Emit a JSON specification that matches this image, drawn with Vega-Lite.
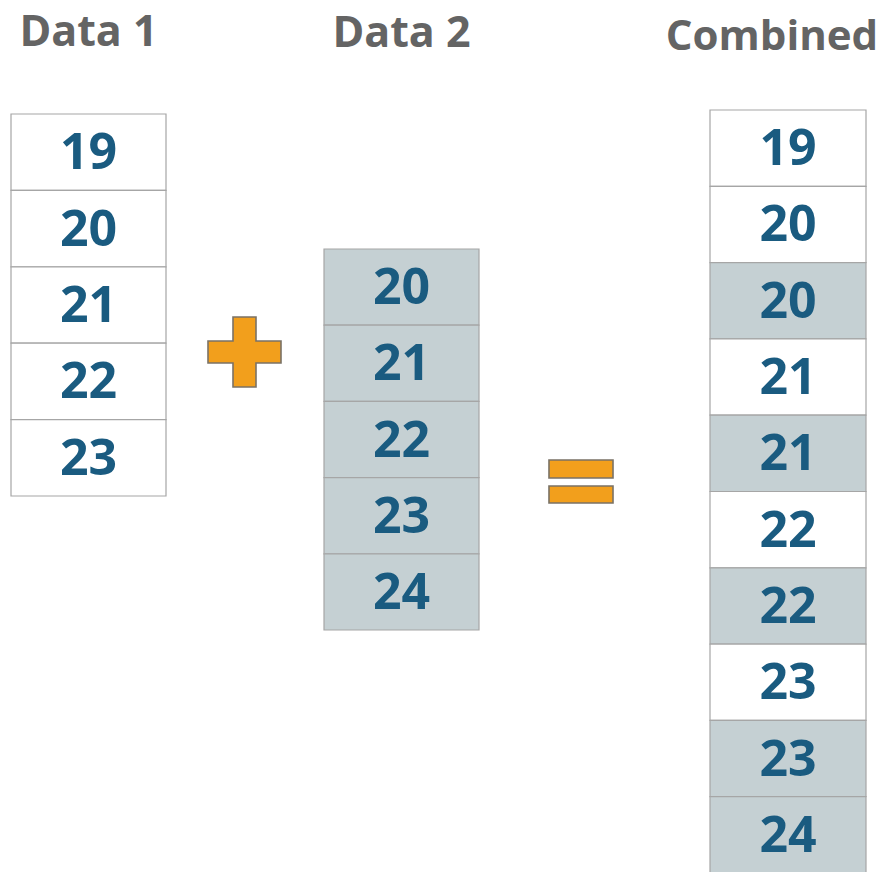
{
  "$schema": "https://vega.github.io/schema/vega-lite/v6.json",
  "width": 882,
  "height": 872,
  "padding": 0,
  "autosize": "none",
  "background": "white",
  "config": {"view": {"stroke": null}},
  "datasets": {
    "cells": [
      {"list": "Data 1", "pos": 1, "value": 19, "source": "Data 1"},
      {"list": "Data 1", "pos": 2, "value": 20, "source": "Data 1"},
      {"list": "Data 1", "pos": 3, "value": 21, "source": "Data 1"},
      {"list": "Data 1", "pos": 4, "value": 22, "source": "Data 1"},
      {"list": "Data 1", "pos": 5, "value": 23, "source": "Data 1"},
      {"list": "Data 2", "pos": 1, "value": 20, "source": "Data 2"},
      {"list": "Data 2", "pos": 2, "value": 21, "source": "Data 2"},
      {"list": "Data 2", "pos": 3, "value": 22, "source": "Data 2"},
      {"list": "Data 2", "pos": 4, "value": 23, "source": "Data 2"},
      {"list": "Data 2", "pos": 5, "value": 24, "source": "Data 2"},
      {"list": "Combined", "pos": 1, "value": 19, "source": "Data 1"},
      {"list": "Combined", "pos": 2, "value": 20, "source": "Data 1"},
      {"list": "Combined", "pos": 3, "value": 20, "source": "Data 2"},
      {"list": "Combined", "pos": 4, "value": 21, "source": "Data 1"},
      {"list": "Combined", "pos": 5, "value": 21, "source": "Data 2"},
      {"list": "Combined", "pos": 6, "value": 22, "source": "Data 1"},
      {"list": "Combined", "pos": 7, "value": 22, "source": "Data 2"},
      {"list": "Combined", "pos": 8, "value": 23, "source": "Data 1"},
      {"list": "Combined", "pos": 9, "value": 23, "source": "Data 2"},
      {"list": "Combined", "pos": 10, "value": 24, "source": "Data 2"}
    ],
    "titles": [
      {"list": "Data 1", "title": "Data 1"},
      {"list": "Data 2", "title": "Data 2"},
      {"list": "Combined", "title": "Combined"}
    ],
    "ops": [
      {"op": "plus"},
      {"op": "equals"}
    ]
  },
  "layer": [
    {
      "data": {"name": "cells"},
      "transform": [{"filter": "datum.list === 'Data 1'"}],
      "encoding": {
        "x": {"field": "list", "type": "nominal", "scale": {"type": "band", "domain": ["Data 1"], "range": [11, 166], "paddingInner": 0, "paddingOuter": 0}, "axis": null},
        "y": {"field": "pos", "type": "ordinal", "scale": {"type": "band", "domain": [1, 2, 3, 4, 5], "range": [114, 496], "paddingInner": 0, "paddingOuter": 0}, "axis": null}
      },
      "layer": [
        {
          "mark": {"type": "rect", "stroke": "#a6a6a6", "strokeWidth": 1.2},
          "encoding": {"fill": {"field": "source", "type": "nominal", "scale": {"domain": ["Data 1", "Data 2"], "range": ["#ffffff", "#c5d0d3"]}, "legend": null}}
        },
        {
          "mark": {"type": "text", "font": "Open Sans", "fontWeight": "bold", "fontSize": 50, "fill": "#1a5b80", "baseline": "middle", "dy": 2},
          "encoding": {"text": {"field": "value", "type": "nominal"}}
        },
        {
          "data": {"name": "titles"},
          "transform": [{"filter": "datum.list === 'Data 1'"}],
          "mark": {"type": "text", "font": "Open Sans", "fontWeight": "bold", "fontSize": 43, "fill": "#646464", "baseline": "alphabetic"},
          "encoding": {"y": {"value": 46}, "text": {"field": "title", "type": "nominal"}}
        }
      ]
    },
    {
      "data": {"name": "cells"},
      "transform": [{"filter": "datum.list === 'Data 2'"}],
      "encoding": {
        "x": {"field": "list", "type": "nominal", "scale": {"type": "band", "domain": ["Data 2"], "range": [324, 479], "paddingInner": 0, "paddingOuter": 0}, "axis": null},
        "y": {"field": "pos", "type": "ordinal", "scale": {"type": "band", "domain": [1, 2, 3, 4, 5], "range": [249, 630], "paddingInner": 0, "paddingOuter": 0}, "axis": null}
      },
      "layer": [
        {
          "mark": {"type": "rect", "stroke": "#a6a6a6", "strokeWidth": 1.2},
          "encoding": {"fill": {"field": "source", "type": "nominal", "scale": {"domain": ["Data 1", "Data 2"], "range": ["#ffffff", "#c5d0d3"]}, "legend": null}}
        },
        {
          "mark": {"type": "text", "font": "Open Sans", "fontWeight": "bold", "fontSize": 50, "fill": "#1a5b80", "baseline": "middle", "dy": 2},
          "encoding": {"text": {"field": "value", "type": "nominal"}}
        },
        {
          "data": {"name": "titles"},
          "transform": [{"filter": "datum.list === 'Data 2'"}],
          "mark": {"type": "text", "font": "Open Sans", "fontWeight": "bold", "fontSize": 43, "fill": "#646464", "baseline": "alphabetic"},
          "encoding": {"y": {"value": 47}, "text": {"field": "title", "type": "nominal"}}
        }
      ]
    },
    {
      "data": {"name": "cells"},
      "transform": [{"filter": "datum.list === 'Combined'"}],
      "encoding": {
        "x": {"field": "list", "type": "nominal", "scale": {"type": "band", "domain": ["Combined"], "range": [710, 866], "paddingInner": 0, "paddingOuter": 0}, "axis": null},
        "y": {"field": "pos", "type": "ordinal", "scale": {"type": "band", "domain": [1, 2, 3, 4, 5, 6, 7, 8, 9, 10], "range": [110, 873], "paddingInner": 0, "paddingOuter": 0}, "axis": null}
      },
      "layer": [
        {
          "mark": {"type": "rect", "stroke": "#a6a6a6", "strokeWidth": 1.2},
          "encoding": {"fill": {"field": "source", "type": "nominal", "scale": {"domain": ["Data 1", "Data 2"], "range": ["#ffffff", "#c5d0d3"]}, "legend": null}}
        },
        {
          "mark": {"type": "text", "font": "Open Sans", "fontWeight": "bold", "fontSize": 50, "fill": "#1a5b80", "baseline": "middle", "dy": 2},
          "encoding": {"text": {"field": "value", "type": "nominal"}}
        },
        {
          "data": {"name": "titles"},
          "transform": [{"filter": "datum.list === 'Combined'"}],
          "mark": {"type": "text", "font": "Open Sans", "fontWeight": "bold", "fontSize": 42, "fill": "#646464", "baseline": "alphabetic", "dx": -16},
          "encoding": {"y": {"value": 50}, "text": {"field": "title", "type": "nominal"}}
        }
      ]
    },
    {
      "data": {"name": "ops"},
      "mark": {"type": "point", "filled": true, "opacity": 1, "fill": "#f29f1c", "stroke": "#7a7266", "strokeWidth": 1.6, "size": 5329},
      "encoding": {
        "x": {"field": "op", "type": "nominal", "scale": {"type": "point", "domain": ["plus", "equals"], "range": [244.5, 581], "padding": 0}, "axis": null},
        "y": {"field": "op", "type": "nominal", "scale": {"type": "point", "domain": ["plus", "equals"], "range": [352, 481.5], "padding": 0}, "axis": null},
        "shape": {"field": "op", "type": "nominal", "scale": {"domain": ["plus", "equals"], "range": ["M -0.315 -0.959 L 0.315 -0.959 L 0.315 -0.301 L 1 -0.301 L 1 0.301 L 0.315 0.301 L 0.315 0.959 L -0.315 0.959 L -0.315 0.301 L -1 0.301 L -1 -0.301 L -0.315 -0.301 Z", "M -0.877 -0.589 L 0.877 -0.589 L 0.877 -0.096 L -0.877 -0.096 Z M -0.877 0.123 L 0.877 0.123 L 0.877 0.589 L -0.877 0.589 Z"]}, "legend": null}
      }
    }
  ],
  "resolve": {"scale": {"x": "independent", "y": "independent"}}
}
